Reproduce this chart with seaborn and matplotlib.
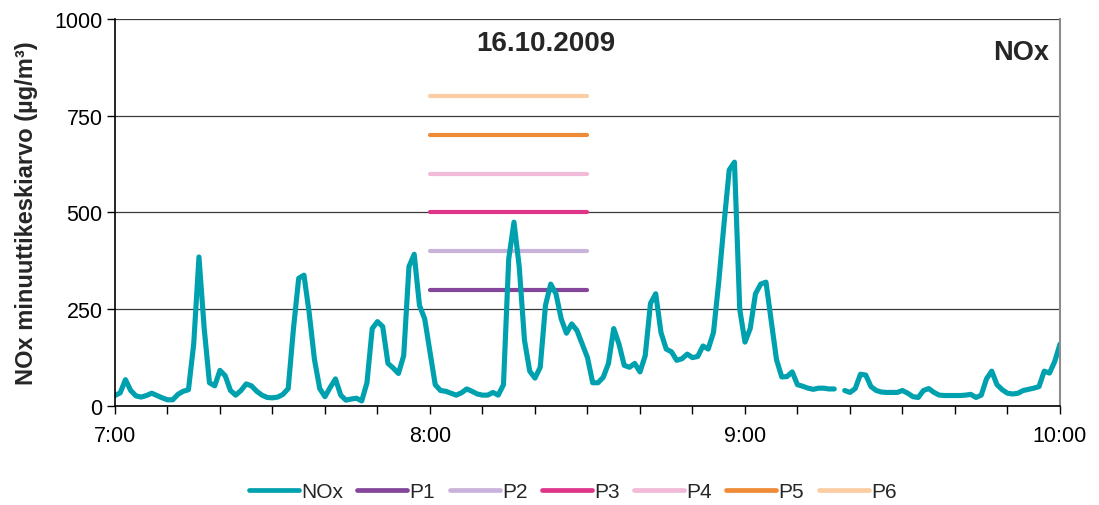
import numpy as np
import pandas as pd
import matplotlib
matplotlib.use("Agg")
import matplotlib.pyplot as plt
import seaborn as sns
from matplotlib.ticker import FixedLocator, MultipleLocator, FuncFormatter
from matplotlib.lines import Line2D

# NOx minute averages, 7:00 - 10:00 (minutes after 7:00); NaN = missing minute
nox_values = [
    27, 34, 68, 40, 26, 23, 27, 33, 27, 21,
    16, 16, 30, 38, 42, 160, 385, 200, 60, 52,
    92, 78, 40, 28, 40, 57, 52, 38, 28, 22,
    21, 23, 30, 45, 200, 330, 338, 240, 120, 45,
    24, 48, 70, 28, 15, 18, 20, 13, 60, 200,
    218, 205, 110, 98, 84, 130, 360, 392, 260, 225,
    140, 55, 40, 38, 33, 28, 34, 44, 38, 31,
    28, 28, 35, 28, 55, 380, 475, 360, 170, 90,
    72, 100, 260, 315, 290, 225, 188, 212, 195, 160,
    125, 60, 60, 74, 110, 200, 160, 105, 100, 110,
    88, 130, 265, 290, 190, 147, 140, 118, 122, 134,
    125, 128, 155, 147, 190, 320, 470, 610, 630, 250,
    165, 200, 290, 315, 320, 220, 120, 75, 76, 88,
    55, 51, 46, 43, 46, 46, 44, 44, np.nan, 40,
    35, 45, 82, 80, 50, 40, 36, 35, 35, 35,
    40, 33, 24, 22, 40, 45, 35, 28, 27, 27,
    27, 27, 28, 30, 22, 28, 70, 90, 55, 42,
    33, 31, 33, 40, 43, 46, 50, 90, 85, 115,
    160,
]
minutes = list(range(len(nox_values)))

# Threshold levels P1..P6, drawn over 8:00 - 8:30
level_names = ["P1", "P2", "P3", "P4", "P5", "P6"]
level_values = [300, 400, 500, 600, 700, 800]
level_start, level_end = 60, 90

level_colors = ["#84469A", "#C9B3DA", "#DE3588", "#F1BAD7", "#EF8A36", "#FBCDA3"]
nox_color = "#00A1AF"

hour_ticks = [0, 60, 120, 180]
hour_labels = ["7:00", "8:00", "9:00", "10:00"]
y_ticks = [0, 250, 500, 750, 1000]

sns.set_style("white")
plt.rcParams["font.family"] = ["Liberation Sans", "DejaVu Sans"]

nox = pd.DataFrame({"min": minutes, "NOx": nox_values})
nox["jakso"] = nox["NOx"].isna().cumsum()
nox = nox.dropna()

levels = pd.DataFrame({
    "min": [level_start, level_end] * len(level_names),
    "arvo": [v for v in level_values for _ in range(2)],
    "sarja": [n for n in level_names for _ in range(2)],
})

fig = plt.figure(figsize=(10.99, 5.06), dpi=100)
ax = fig.add_axes([0.1046, 0.1957, 0.8599, 0.7648])

sns.lineplot(data=levels, x="min", y="arvo", hue="sarja",
             palette=dict(zip(level_names, level_colors)),
             linewidth=3.0, solid_capstyle="round", legend=False, ax=ax)
sns.lineplot(data=nox, x="min", y="NOx", units="jakso", estimator=None,
             color=nox_color, linewidth=3.7, solid_joinstyle="round",
             solid_capstyle="round", legend=False, ax=ax)

ax.set_xlim(0, 180)
ax.set_ylim(0, 1000)
ax.yaxis.set_major_locator(FixedLocator(y_ticks))
ax.xaxis.set_major_locator(FixedLocator(hour_ticks))
ax.xaxis.set_major_formatter(FuncFormatter(lambda v, p: hour_labels[hour_ticks.index(int(round(v)))]
                                           if int(round(v)) in hour_ticks else ""))
ax.xaxis.set_minor_locator(MultipleLocator(10))
ax.tick_params(axis="both", which="both", direction="out", length=6, width=1,
               color="black", labelsize=15.5, labelcolor="black")
ax.tick_params(axis="x", which="both", bottom=True, pad=8)
ax.tick_params(axis="y", which="both", left=True, pad=3)

ax.grid(axis="y", color="#3a3a3a", linewidth=0.9)
ax.grid(axis="x", visible=False)
ax.set_axisbelow(True)
for side in ["left", "bottom"]:
    ax.spines[side].set_color("black")
    ax.spines[side].set_linewidth(1.2)
ax.spines["right"].set_color("#8c8c8c")
ax.spines["right"].set_linewidth(1.5)
ax.spines["top"].set_visible(False)

ax.set_xlabel("")
ax.set_ylabel("NOx minuuttikeskiarvo (µg/m³)", fontsize=17, fontweight="bold", labelpad=12)

ax.text(82, 938, "16.10.2009", ha="center", va="center", fontsize=20, fontweight="bold")
ax.text(178, 915, "NOx", ha="right", va="center", fontsize=19.5, fontweight="bold")

handles = [Line2D([], [], color=nox_color, linewidth=3.4)] + \
          [Line2D([], [], color=c, linewidth=3.4) for c in level_colors]
fig.legend(handles, ["NOx"] + level_names, loc="center", bbox_to_anchor=(0.521, 0.027),
           ncol=7, frameon=False, fontsize=15, handlelength=2.4, handletextpad=0.1,
           columnspacing=0.7)

fig.savefig("out.png", dpi=100)
